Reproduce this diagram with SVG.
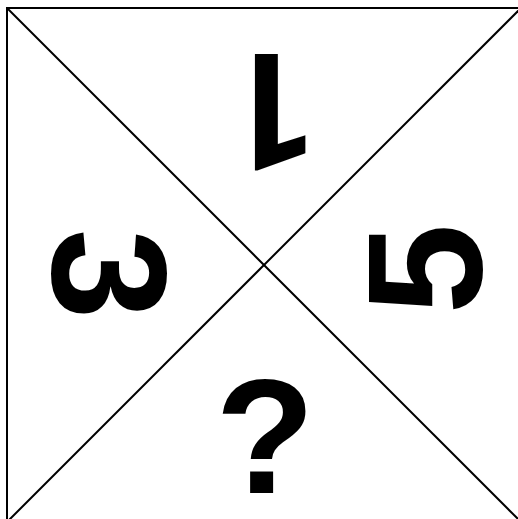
<svg xmlns="http://www.w3.org/2000/svg" width="518" height="519" viewBox="0 0 518 519">
<style>
.ln{stroke:#000;stroke-width:2;fill:none}
.num{font-family:"Liberation Sans",Arial,sans-serif;font-weight:bold;font-size:163px;fill:#000;text-anchor:middle}
.one{font-family:Roboto,"Liberation Sans",sans-serif;font-size:163px}
</style>
<rect width="518" height="519" fill="#fff"/>
<g id="connectors">
<rect class="ln" x="7" y="8" width="514" height="514"/>
<line class="ln" x1="7" y1="8" x2="521" y2="522"/>
<line class="ln" x1="521" y1="8" x2="7" y2="522"/>
</g>
<g id="top"><text class="num one" x="272" y="170" transform="rotate(180 272 112)">1</text></g>
<g id="left"><text class="num" x="111" y="332" transform="rotate(90 111 274)">3</text></g>
<g id="right"><text class="num" x="423" y="327" transform="rotate(-90 423 269)">5</text></g>
<g id="bottom"><text class="num" x="265" y="493">?</text></g>
</svg>
